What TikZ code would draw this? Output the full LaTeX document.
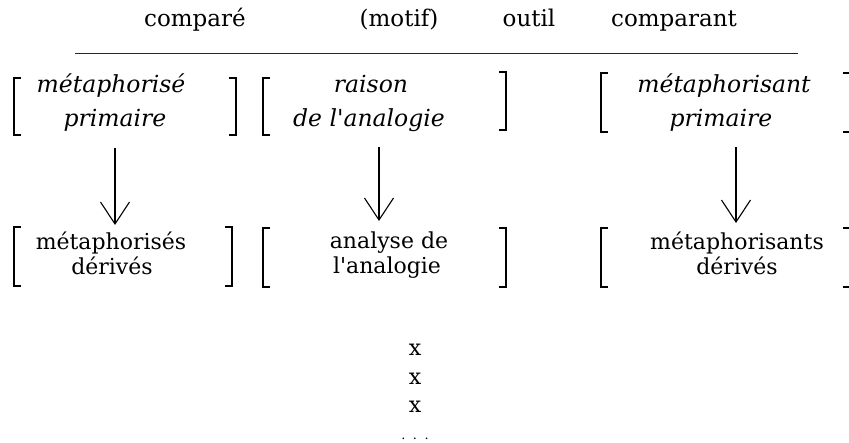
\documentclass[tikz,border=0pt]{standalone}
\usepackage{fontspec}
\setmainfont{DejaVu Serif}
\usetikzlibrary{arrows.meta}
\tikzset{
  head/.style={font=\fontsize{23}{26}\selectfont, anchor=base, inner sep=0pt},
  prim/.style={font=\fontsize{23.5}{26}\selectfont\itshape, anchor=base, inner sep=0pt},
  deriv/.style={font=\fontsize{22}{24}\selectfont, anchor=base, inner sep=0pt},
  brk/.style={line width=1.4pt},
  rule/.style={line width=0.9pt, black!85},
  down/.style={line width=1.2pt, -{Straight Barb[length=22pt,width=29pt,line width=1.1pt]}},
}
% square brackets: x, top, bottom
\newcommand\leftbrk[3]{\draw[brk] (#1+7,#2) -- (#1,#2) -- (#1,#3) -- (#1+7,#3);}
\newcommand\rightbrk[3]{\draw[brk] (#1-7,#2) -- (#1,#2) -- (#1,#3) -- (#1-7,#3);}
\begin{document}
\begin{tikzpicture}[x=1pt,y=-1pt]
\useasboundingbox (0,0) rectangle (849,443);

% column headings
\node[head] (hcompare) at (195,27) {comparé};
\node[head] (hmotif)   at (399,27) {(motif)};
\node[head] (houtil)   at (529,27) {outil};
\node[head] (hcomparant) at (674,27) {comparant};
\draw[rule] (75,53) coordinate (ruleL) -- (798,53) coordinate (ruleR);

% primary terms
\node[prim] (p1a) at (111,93) {métaphorisé};
\node[prim] (p1b) at (115,127) {primaire};
\node[prim] (p2a) at (371,93) {raison};
\node[prim] (p2b) at (369,127) {de l\textquotesingle analogie};
\node[prim] (p3a) at (724,93) {métaphorisant};
\node[prim] (p3b) at (721,127) {primaire};

\leftbrk{14}{78}{135}  \rightbrk{236}{78}{135}
\leftbrk{263}{78}{135} \rightbrk{506}{72}{130}
\leftbrk{601}{73}{132} \rightbrk{850}{73}{132}

% derived terms
\node[deriv] (d1a) at (111,250) {métaphorisés};
\node[deriv] (d1b) at (112,275) {dérivés};
\node[deriv] (d2a) at (389,249) {analyse de};
\node[deriv] (d2b) at (387,274) {l\textquotesingle analogie};
\node[deriv] (d3a) at (737,250) {métaphorisants};
\node[deriv] (d3b) at (737,275) {dérivés};

\leftbrk{14}{227}{286}  \rightbrk{232}{227}{286}
\leftbrk{263}{228}{287} \rightbrk{506}{228}{287}
\leftbrk{601}{228}{287} \rightbrk{850}{228}{287}

% derivation arrows
\coordinate (s1) at (115,148); \coordinate (e1) at (115,225);
\coordinate (s2) at (379,147); \coordinate (e2) at (379,221);
\coordinate (s3) at (736,147); \coordinate (e3) at (736,223);
\draw[down] (s1) -- (e1);
\draw[down] (s2) -- (e2);
\draw[down] (s3) -- (e3);

% continuation
\node[deriv] (x1) at (415,356) {x};
\node[deriv] (x2) at (415,385) {x};
\node[deriv] (x3) at (415,413) {x};
\node[anchor=base, inner sep=0pt, font=\fontsize{13}{14}\selectfont] (dots) at (415,439) {.\hspace{7.5pt}.\hspace{7.5pt}.};
\end{tikzpicture}
\end{document}
